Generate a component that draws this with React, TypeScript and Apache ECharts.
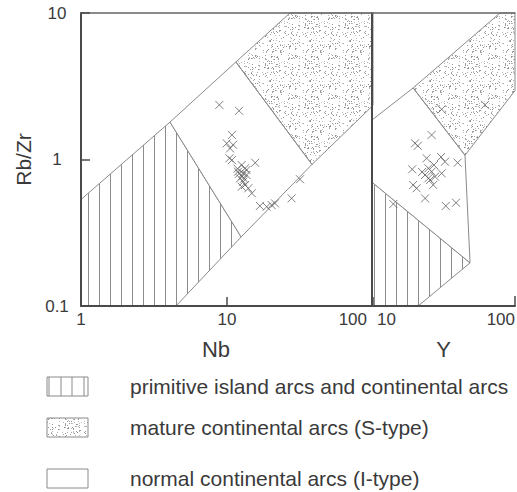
import React, { useEffect, useRef } from 'react';
import * as echarts from 'echarts';

// ---- data ----
// Left panel: Nb (x) vs Rb/Zr (y)
const nbPoints: number[][] = [
  [8.86, 2.36], [12.1, 2.15], [10.8, 1.47], [9.95, 1.29], [11.0, 1.26], [10.5, 1.19],
  [10.4, 1.02], [10.8, 0.99], [15.6, 0.95], [12.6, 0.917], [13.3, 0.871], [11.9, 0.826],
  [12.9, 0.805], [13.6, 0.784], [12.3, 0.744], [12.9, 0.705], [13.3, 0.67], [12.6, 0.652],
  [14.0, 0.636], [14.8, 0.588], [31.6, 0.733], [27.7, 0.543], [16.8, 0.482], [18.7, 0.476],
  [20.2, 0.489], [21.3, 0.502], [13.6, 0.848], [11.8, 0.865], [12.7, 0.77], [13.1, 0.74],
  [12.1, 0.8],
];
// Right panel: Y (x) vs Rb/Zr (y)
const yPoints: number[][] = [
  [30.7, 2.2], [61.7, 2.36], [26.1, 1.47], [20.0, 1.29], [20.9, 1.24], [24.1, 1.02],
  [30.4, 1.04], [32.4, 0.966], [39.7, 0.951], [19.1, 0.857], [24.8, 0.871], [26.1, 0.826],
  [23.5, 0.784], [27.6, 0.763], [30.7, 0.805], [24.8, 0.744], [19.4, 0.67], [20.5, 0.636],
  [26.8, 0.67], [23.5, 0.543], [32.8, 0.482], [38.7, 0.507], [14.1, 0.497], [25.5, 0.725],
  [22.4, 0.822], [27.1, 0.917],
];

// Field boundaries (polygons in data units)
const nbPrimitive = [[1, 0.1], [1, 0.533], [4.07, 1.8], [12.5, 0.296], [4.47, 0.1]];
const nbNormal = [[4.07, 1.8], [11.5, 4.63], [38.2, 0.925], [12.5, 0.296]];
const nbMature = [[11.5, 4.63], [27, 10], [100, 10], [100, 2.34], [38.2, 0.925]];
const yPrimitive = [[10, 0.1], [10, 0.7], [48.5, 0.197], [21.0, 0.1]];
const yNormal = [[10, 0.7], [10, 1.86], [19.4, 3.08], [44.7, 1.07], [48.5, 0.197]];
const yMature = [[19.4, 3.08], [78.5, 10], [100, 10], [100, 2.95], [44.7, 1.07]];

const nbRange = [1, 100];
const yRange = [10, 100];
const ratioRange = [0.1, 10];

const axisNames = { left: 'Nb', right: 'Y', ratio: 'Rb/Zr' };
const legendLabels = [
  'primitive island arcs and continental arcs',
  'mature continental arcs (S-type)',
  'normal continental arcs (I-type)',
];

const FONT = '"Liberation Sans", Arial, sans-serif';
const TEXT = '#3a3a3a';
const EDGE = '#8a8a8a';
const AXIS = '#4a4a4a';

function makeHatch(): string {
  const c = document.createElement('canvas');
  c.width = 11;
  c.height = 4;
  const ctx = c.getContext('2d')!;
  ctx.fillStyle = '#8c8c8c';
  ctx.fillRect(0, 0, 1, 4);
  return c.toDataURL();
}

function makeStipple(): string {
  const c = document.createElement('canvas');
  c.width = 40;
  c.height = 40;
  const ctx = c.getContext('2d')!;
  let s = 12345;
  const next = () => {
    s = (s * 1103515245 + 12345) & 0x7fffffff;
    return s / 0x7fffffff;
  };
  for (let i = 0; i < 210; i++) {
    const x = Math.floor(next() * 40);
    const y = Math.floor(next() * 40);
    const g = 135 + Math.floor(next() * 60);
    ctx.fillStyle = `rgb(${g},${g},${g})`;
    ctx.fillRect(x, y, 1, 1);
  }
  return c.toDataURL();
}

export default function App() {
  const ref = useRef<HTMLDivElement>(null);
  useEffect(() => {
    if (!ref.current) return;
    const chart = echarts.init(ref.current, null, { renderer: 'svg' });
    const hatchUrl = makeHatch();
    const stippleUrl = makeStipple();
    const hatch = { image: hatchUrl, repeat: 'repeat', imageWidth: 11, imageHeight: 4, x: 3.5, scaleX: 11.3 / 11 };
    const stipple = { image: stippleUrl, repeat: 'repeat', imageWidth: 40, imageHeight: 40 };

    const poly = (xi: number, yi: number, pts: number[][], fill: any) => ({
      type: 'custom',
      xAxisIndex: xi,
      yAxisIndex: yi,
      silent: true,
      z: 1,
      data: [pts[0]],
      renderItem: (_p: any, api: any) => ({
        type: 'polygon',
        shape: { points: pts.map((p) => api.coord(p)) },
        style: { fill, stroke: EDGE, lineWidth: 1 },
      }),
    });

    const cross = 'path://M0 0L10 10M10 0L0 10';
    const scatter = (xi: number, yi: number, data: number[][]) => ({
      type: 'scatter',
      xAxisIndex: xi,
      yAxisIndex: yi,
      data,
      z: 4,
      symbol: cross,
      symbolSize: 8,
      itemStyle: { color: 'rgba(0,0,0,0)', borderColor: '#626262', borderWidth: 1 },
    });

    const labelStyle = { fontFamily: FONT, fontSize: 17, color: TEXT };
    const fmt = (v: number) => (v < 1 ? '0.1' : String(Math.round(v)));

    const topAxis = (gi: number, range: number[]) => ({
      type: 'log',
      gridIndex: gi,
      position: 'top',
      min: range[0],
      max: range[1],
      z: 5,
      axisLine: { show: true, lineStyle: { color: '#666', width: 1.5 } },
      axisTick: { show: false },
      axisLabel: { show: false },
      splitLine: { show: false },
    });

    const legendY = [386, 427, 478];
    const boxX = 47;
    const boxW = 41;
    const boxH = 20;

    chart.setOption({
      animation: false,
      grid: [
        { left: 81, top: 13, width: 292, height: 293, containLabel: false, outerBoundsMode: 'none' },
        { left: 372, top: 13, width: 143, height: 293, containLabel: false, outerBoundsMode: 'none' },
      ],
      xAxis: [
        {
          type: 'log', gridIndex: 0, min: nbRange[0], max: nbRange[1], z: 5,
          name: axisNames.left, nameLocation: 'middle', nameGap: 32,
          nameTextStyle: { fontFamily: FONT, fontSize: 22, color: TEXT, padding: [0, 22, 0, 0] },
          axisLine: { lineStyle: { color: AXIS, width: 2 } },
          axisTick: { inside: true, length: 9, lineStyle: { color: AXIS, width: 1.5 } },
          axisLabel: {
            ...labelStyle, margin: 5, alignMaxLabel: 'right',
            formatter: (v: number) => (Math.round(v) === 100 ? '{r|100}' : fmt(v)),
            rich: { r: { ...labelStyle, padding: [0, 6, 0, 0] } },
          },
          splitLine: { show: false },
        },
        {
          type: 'log', gridIndex: 1, min: yRange[0], max: yRange[1], z: 5,
          name: axisNames.right, nameLocation: 'middle', nameGap: 32,
          nameTextStyle: { fontFamily: FONT, fontSize: 22, color: TEXT },
          axisLine: { lineStyle: { color: AXIS, width: 2 } },
          axisTick: { inside: true, length: 10, lineStyle: { color: AXIS, width: 1.5 } },
          axisLabel: {
            ...labelStyle, margin: 5, alignMinLabel: 'left', alignMaxLabel: 'right',
            formatter: (v: number) => (Math.round(v) === 10 ? '{l|10}' : fmt(v)),
            rich: { l: { ...labelStyle, padding: [0, 0, 0, 5] } },
          },
          splitLine: { show: false },
        },
        topAxis(0, nbRange),
        topAxis(1, yRange),
      ],
      yAxis: [
        {
          type: 'log', gridIndex: 0, min: ratioRange[0], max: ratioRange[1], z: 5,
          name: axisNames.ratio, nameLocation: 'middle', nameGap: 47, nameRotate: 90,
          nameTextStyle: { fontFamily: FONT, fontSize: 21, color: TEXT },
          axisLine: { show: true, lineStyle: { color: AXIS, width: 2 } },
          axisTick: { inside: true, length: 9, lineStyle: { color: AXIS, width: 1.5 } },
          axisLabel: { ...labelStyle, margin: 24, align: 'center', formatter: fmt },
          splitLine: { show: false },
        },
        {
          type: 'log', gridIndex: 1, min: ratioRange[0], max: ratioRange[1], z: 5,
          axisLine: { show: true, lineStyle: { color: AXIS, width: 2 } },
          axisTick: { show: false },
          axisLabel: { show: false },
          splitLine: { show: false },
        },
      ],
      series: [
        poly(0, 0, nbPrimitive, hatch),
        poly(0, 0, nbNormal, '#ffffff'),
        poly(0, 0, nbMature, stipple),
        poly(1, 1, yPrimitive, hatch),
        poly(1, 1, yNormal, '#ffffff'),
        poly(1, 1, yMature, stipple),
        scatter(0, 0, nbPoints),
        scatter(1, 1, yPoints),
      ],
      graphic: [
        { type: 'rect', shape: { x: boxX, y: legendY[0] - 9, width: boxW, height: boxH - 1 }, style: { fill: '#fff', stroke: EDGE, lineWidth: 1 } },
        ...[49, 61, 72, 84].map((lx) => ({
          type: 'line', shape: { x1: lx, y1: legendY[0] - 9, x2: lx, y2: legendY[0] + 10 }, style: { stroke: EDGE, lineWidth: 1 },
        })),
        { type: 'rect', shape: { x: boxX, y: legendY[1] - 9, width: boxW, height: boxH - 1 }, style: { fill: stipple, stroke: EDGE, lineWidth: 1 } },
        { type: 'rect', shape: { x: boxX, y: legendY[2] - 9, width: boxW, height: boxH - 1 }, style: { fill: '#fff', stroke: EDGE, lineWidth: 1 } },
        ...legendLabels.map((t, i) => ({
          type: 'text',
          x: 130,
          y: legendY[i],
          style: { text: t, fontFamily: FONT, fontSize: 21, fill: TEXT, verticalAlign: 'middle', align: 'left' },
        })),
      ],
    });
    return () => chart.dispose();
  }, []);
  return <div ref={ref} style={{ position: 'absolute', left: 0, top: 0, width: 517, height: 492 }} />;
}
